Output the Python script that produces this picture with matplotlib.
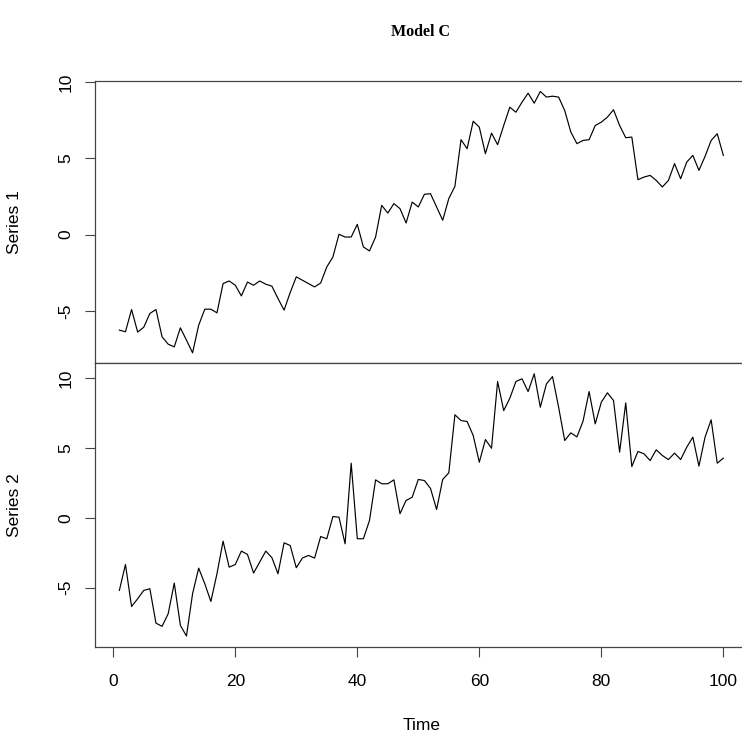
import matplotlib
matplotlib.use("Agg")
import matplotlib.pyplot as plt
import numpy as np

title = "Model C"
xlabel = "Time"
ylabels = ["Series 1", "Series 2"]
time = list(range(1, 101))

series1 = [
    -6.26, -6.37, -4.91, -6.39, -6.07, -5.17, -4.91, -6.70, -7.18, -7.36,
    -6.11, -6.92, -7.75, -5.94, -4.89, -4.89, -5.13, -3.21, -3.04, -3.32,
    -4.02, -3.11, -3.32, -3.04, -3.25, -3.38, -4.19, -4.95, -3.80, -2.77,
    -2.99, -3.21, -3.43, -3.17, -2.12, -1.47, 0.02, -0.16, -0.16, 0.67,
    -0.81, -1.07, -0.16, 1.92, 1.41, 2.03, 1.70, 0.76, 2.13, 1.81,
    2.64, 2.68, 1.81, 0.94, 2.36, 3.16, 6.22, 5.63, 7.43, 7.04,
    5.30, 6.65, 5.89, 7.15, 8.35, 8.02, 8.68, 9.27, 8.61, 9.38,
    9.01, 9.07, 9.01, 8.13, 6.72, 5.96, 6.17, 6.22, 7.15, 7.37,
    7.70, 8.18, 7.15, 6.35, 6.39, 3.60, 3.77, 3.88, 3.55, 3.12,
    3.55, 4.65, 3.66, 4.75, 5.19, 4.21, 5.12, 6.17, 6.61, 5.19,
]

series2 = [
    -5.19, -3.34, -6.34, -5.79, -5.19, -5.07, -7.53, -7.76, -6.86, -4.67,
    -7.69, -8.45, -5.43, -3.60, -4.71, -5.98, -4.00, -1.67, -3.53, -3.34,
    -2.38, -2.62, -3.95, -3.17, -2.38, -2.85, -4.00, -1.79, -1.98, -3.57,
    -2.88, -2.69, -2.88, -1.34, -1.50, 0.09, 0.04, -1.86, 3.90, -1.50,
    -1.50, -0.19, 2.71, 2.43, 2.43, 2.71, 0.29, 1.24, 1.47, 2.74,
    2.66, 2.10, 0.59, 2.74, 3.21, 7.36, 6.95, 6.88, 5.88, 3.97,
    5.59, 4.97, 9.74, 7.66, 8.54, 9.74, 9.93, 9.02, 10.29, 7.90,
    9.57, 10.09, 7.90, 5.52, 6.07, 5.78, 6.90, 9.02, 6.71, 8.26,
    8.93, 8.38, 4.69, 8.21, 3.66, 4.74, 4.57, 4.09, 4.86, 4.45,
    4.16, 4.62, 4.16, 5.04, 5.76, 3.69, 5.76, 7.00, 3.90, 4.26,
]

ytick_vals = [-5, 0, 5, 10]
xtick_vals = [0, 20, 40, 60, 80, 100]

W, H = 742, 738
fig = plt.figure(figsize=(W / 100, H / 100), dpi=100)
plt.rcParams["font.family"] = ["Liberation Sans", "DejaVu Sans"]

left_px, right_px = 95.2, 747.5
panels_px = [(81.0, 363.3), (363.3, 646.5)]

def rpad(lo, hi):
    r = hi - lo
    return lo - 0.04 * r, hi + 0.04 * r

axes = []
for (top_px, bot_px), data, lab in zip(panels_px, [series1, series2], ylabels):
    ax = fig.add_axes([left_px / W, 1 - bot_px / H,
                       (right_px - left_px) / W, (bot_px - top_px) / H])
    ax.plot(time, data, color="black", lw=0.85)
    ax.set_xlim(*rpad(min(time), max(time)))
    ax.set_ylim(*rpad(min(data), max(data)))
    ax.set_yticks(ytick_vals)
    ax.set_yticklabels([str(v) for v in ytick_vals], rotation=90, va="center")
    ax.tick_params(axis="y", length=7.5, width=0.8, pad=8, labelsize=12.5, color="#444444")
    for s in ax.spines.values():
        s.set_linewidth(0.9)
        s.set_color("#444444")
    ax.set_ylabel(lab, fontsize=12.5)
    ax.yaxis.set_label_coords(22 / ((right_px - left_px)) - (left_px) / (right_px - left_px), 0.5)
    axes.append(ax)

axes[0].set_xticks([])
ax = axes[1]
ax.set_xticks(xtick_vals)
ax.set_xticklabels([str(v) for v in xtick_vals])
ax.tick_params(axis="x", length=7.5, width=0.8, pad=12, labelsize=12.5, color="#444444")
ax.set_xlabel(xlabel, fontsize=12.5)
ax.xaxis.set_label_coords(0.5, -(725 - 646.5) / (646.5 - 363.3))
ax.xaxis.label.set_va("center")

fig.text(421 / W, 1 - 32 / H, title, ha="center", va="center",
         fontsize=11.5, fontweight="bold", family=["Liberation Serif", "DejaVu Serif"])

fig.savefig("out.png", dpi=100)
